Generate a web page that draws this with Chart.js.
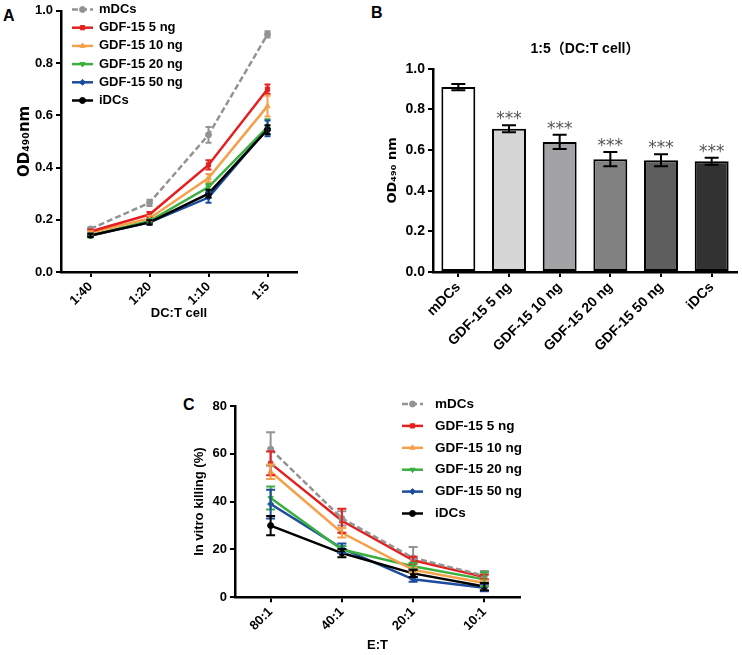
<!DOCTYPE html>
<html><head><meta charset="utf-8">
<script src="https://cdn.jsdelivr.net/npm/chart.js@4.4.0/dist/chart.umd.min.js"></script>
<style>
html,body{margin:0;padding:0;background:#fff}
body{width:742px;height:655px;position:relative;overflow:hidden;font-family:"Liberation Sans",Arial,sans-serif}
canvas{position:absolute}
.lbl{position:absolute;font-weight:bold;font-size:16px;line-height:16px;color:#000}
</style></head><body>
<div class="lbl" style="left:3px;top:8px">A</div>
<div class="lbl" style="left:371px;top:5px">B</div>
<div class="lbl" style="left:183px;top:397px">C</div>
<canvas id="cA" width="310" height="330" style="left:0;top:0"></canvas>
<canvas id="cB" width="382" height="365" style="left:360px;top:0"></canvas>
<canvas id="cC" width="420" height="270" style="left:130px;top:385px"></canvas>
<script>
// ---------- DATA ----------
const groups = ['mDCs', 'GDF-15 5 ng', 'GDF-15 10 ng', 'GDF-15 20 ng', 'GDF-15 50 ng', 'iDCs'];

// Panel A: OD490 vs DC:T cell ratio
const ratiosA = ['1:40', '1:20', '1:10', '1:5'];
const odA_mDCs   = [0.165, 0.265, 0.525, 0.910];
const odA_g5     = [0.155, 0.220, 0.410, 0.700];
const odA_g10    = [0.150, 0.205, 0.360, 0.635];
const odA_g20    = [0.140, 0.195, 0.325, 0.555];
const odA_g50    = [0.140, 0.190, 0.285, 0.550];
const odA_iDCs   = [0.140, 0.190, 0.300, 0.545];
const errA_mDCs  = [0.006, 0.012, 0.030, 0.012];
const errA_g5    = [0.008, 0.010, 0.018, 0.018];
const errA_g10   = [0.006, 0.010, 0.015, 0.040];
const errA_g20   = [0.008, 0.008, 0.012, 0.030];
const errA_g50   = [0.006, 0.008, 0.020, 0.030];
const errA_iDCs  = [0.006, 0.008, 0.015, 0.017];

// Panel B: OD490 at 1:5
const odB  = [0.910, 0.705, 0.640, 0.555, 0.550, 0.545];
const errB = [0.015, 0.017, 0.035, 0.035, 0.030, 0.017];
const sigB = ['', '***', '***', '***', '***', '***'];

// Panel C: in vitro killing (%) vs E:T
const ratiosC = ['80:1', '40:1', '20:1', '10:1'];
const killC_mDCs = [62.0, 33.0, 16.5, 9.0];
const killC_g5   = [56.0, 32.0, 15.5, 8.5];
const killC_g10  = [52.5, 27.0, 11.5, 6.0];
const killC_g20  = [41.5, 20.0, 13.0, 7.5];
const killC_g50  = [39.0, 20.5, 7.5, 4.0];
const killC_iDCs = [30.0, 18.5, 10.0, 4.5];
const errC_mDCs  = [7.0, 3.0, 4.5, 2.0];
const errC_g5    = [5.0, 5.0, 1.5, 1.0];
const errC_g10   = [3.0, 2.0, 1.0, 1.0];
const errC_g20   = [4.8, 1.5, 1.5, 3.0];
const errC_g50   = [6.0, 2.0, 1.0, 1.5];
const errC_iDCs  = [4.0, 1.7, 1.5, 1.5];

// ---------- STYLE ----------
const FONT = '"Liberation Sans", Arial, sans-serif';
const SUBFONT = '"DejaVu Sans", "Liberation Sans", sans-serif';
Chart.defaults.font.family = FONT;
Chart.defaults.color = '#000';

const seriesStyle = [
  {color: '#939393', point: 'circle', rot: 0, dash: [6, 3]},
  {color: '#e3201f', point: 'rect', rot: 0, dash: []},
  {color: '#f5a04a', point: 'triangle', rot: 0, dash: []},
  {color: '#3bb041', point: 'triangle', rot: 180, dash: []},
  {color: '#1c4c9e', point: 'rectRot', rot: 0, dash: []},
  {color: '#000000', point: 'circle', rot: 0, dash: []}
];

function lineDS(i, data, errors) {
  const s = seriesStyle[i];
  return {
    label: groups[i], data, errors,
    borderColor: s.color, backgroundColor: s.color,
    pointBackgroundColor: s.color, pointBorderColor: s.color,
    pointStyle: s.point, pointRotation: s.rot, pointRadius: 3, pointBorderWidth: 1,
    borderWidth: 2.5, borderDash: s.dash, tension: 0, fill: false,
    order: i === 5 ? 0 : i + 1
  };
}

// ---------- PLUGINS ----------
const errorBarPlugin = {
  id: 'errorBars',
  afterDatasetsDraw(chart, args, o) {
    const ctx = chart.ctx, ys = chart.scales.y;
    chart.data.datasets.forEach((ds, di) => {
      if (!ds.errors) return;
      const meta = chart.getDatasetMeta(di);
      meta.data.forEach((el, i) => {
        const v = ds.data[i], e = ds.errors[i];
        const x = el.x, yT = ys.getPixelForValue(v + e), yB = ys.getPixelForValue(v - e);
        const w = o.capWidth / 2;
        ctx.save();
        ctx.strokeStyle = o.color || ds.borderColor;
        ctx.lineWidth = o.lineWidth;
        ctx.setLineDash([]);
        ctx.beginPath();
        ctx.moveTo(x, yT); ctx.lineTo(x, yB);
        ctx.moveTo(x - w, yT); ctx.lineTo(x + w, yT);
        ctx.moveTo(x - w, yB); ctx.lineTo(x + w, yB);
        ctx.stroke();
        if (ds.sig && ds.sig[i]) {
          ctx.fillStyle = o.sigColor;
          ctx.font = o.sigFont;
          ctx.textAlign = 'center';
          ctx.textBaseline = 'alphabetic';
          ctx.fillText(ds.sig[i], x, yT + o.sigOffset);
        }
        ctx.restore();
      });
    });
  }
};

const lineLegendPlugin = {
  id: 'lineLegend',
  afterDraw(chart, args, o) {
    if (!o || !o.display) return;
    const ctx = chart.ctx;
    chart.data.datasets.forEach((ds, i) => {
      const y = o.y + i * o.rowHeight;
      ctx.save();
      ctx.strokeStyle = ds.borderColor;
      ctx.lineWidth = ds.borderWidth;
      ctx.setLineDash(ds.borderDash || []);
      ctx.beginPath();
      ctx.moveTo(o.x, y); ctx.lineTo(o.x + o.lineLength, y);
      ctx.stroke();
      ctx.setLineDash([]);
      ctx.fillStyle = ds.pointBackgroundColor;
      ctx.strokeStyle = ds.pointBorderColor;
      ctx.lineWidth = 1;
      Chart.helpers.drawPoint(ctx, {pointStyle: ds.pointStyle, radius: ds.pointRadius, rotation: ds.pointRotation, borderWidth: 1}, o.x + o.lineLength / 2, y);
      ctx.fillStyle = '#000';
      ctx.font = o.font;
      ctx.textAlign = 'left';
      ctx.textBaseline = 'middle';
      ctx.fillText(ds.label, o.x + o.lineLength + o.gap, y);
      ctx.restore();
    });
  }
};

function axisCommon(extra) {
  return Object.assign({
    grid: {display: true, drawOnChartArea: false, drawTicks: true, tickLength: 5, color: '#000', lineWidth: 2, offset: false},
    border: {display: true, color: '#000', width: 2.5}
  }, extra);
}

// ---------- PANEL A ----------
new Chart(document.getElementById('cA'), {
  type: 'line',
  data: {
    labels: ratiosA,
    datasets: [
      lineDS(0, odA_mDCs, errA_mDCs), lineDS(1, odA_g5, errA_g5), lineDS(2, odA_g10, errA_g10),
      lineDS(3, odA_g20, errA_g20), lineDS(4, odA_g50, errA_g50), lineDS(5, odA_iDCs, errA_iDCs)
    ]
  },
  options: {
    responsive: false, animation: false,
    layout: {padding: {left: 0, right: 13, top: 10, bottom: 0}},
    plugins: {
      legend: {display: false}, tooltip: {enabled: false},
      errorBars: {capWidth: 6, lineWidth: 2},
      lineLegend: {display: true, x: 72, y: 9.5, rowHeight: 18.2, lineLength: 21, gap: 6, font: 'bold 13px ' + FONT}
    },
    scales: {
      x: axisCommon({
        offset: true,
        ticks: {maxRotation: 45, minRotation: 45, font: {size: 13, weight: 'bold'}, padding: 2},
        title: {display: true, text: 'DC:T cell', font: {size: 13, weight: 'bold'}, padding: {top: 0, bottom: 9}},
        afterFit: s => { s.height = 58; }
      }),
      y: axisCommon({
        min: 0, max: 1.0,
        ticks: {stepSize: 0.2, callback: v => v.toFixed(1), font: {size: 13, weight: 'bold'}, padding: 3},
        title: {display: true, text: 'OD₄₉₀nm', font: {size: 15, weight: 'bold', family: SUBFONT}, padding: {top: 16, bottom: 0}},
        afterFit: s => { s.width = 61; }
      })
    }
  },
  plugins: [errorBarPlugin, lineLegendPlugin]
});

// ---------- PANEL B ----------
new Chart(document.getElementById('cB'), {
  type: 'bar',
  data: {
    labels: groups,
    datasets: [{
      label: '1:5', data: odB, errors: errB, sig: sigB,
      backgroundColor: ['#ffffff', '#d6d6d6', '#a3a3a5', '#828282', '#5e5e5e', '#323232'],
      borderColor: '#000', borderWidth: 2, borderSkipped: false,
      categoryPercentage: 1.0, barPercentage: 0.67
    }]
  },
  options: {
    responsive: false, animation: false,
    layout: {padding: {left: 0, right: 5, top: 0, bottom: 0}},
    plugins: {
      legend: {display: false}, tooltip: {enabled: false},
      title: {display: true, text: '1:5（DC:T cell）', fullSize: false, font: {size: 14, weight: 'bold', family: FONT + ', "Noto Sans CJK SC"'}, color: '#000', padding: {top: 41, bottom: 11}},
      errorBars: {capWidth: 14, lineWidth: 2, color: '#000', sigColor: '#555', sigFont: '17px "DejaVu Sans"', sigOffset: -1}
    },
    scales: {
      x: axisCommon({
        offset: true,
        ticks: {maxRotation: 45, minRotation: 45, font: {size: 14, weight: 'bold'}, padding: 2},
        afterFit: s => { s.height = 93; }
      }),
      y: axisCommon({
        min: 0, max: 1.0,
        ticks: {stepSize: 0.2, callback: v => v.toFixed(1), font: {size: 14, weight: 'bold'}, padding: 3},
        title: {display: true, text: 'OD₄₉₀ nm', font: {size: 13, weight: 'bold', family: SUBFONT}, padding: {top: 25, bottom: 0}},
        afterFit: s => { s.width = 73; }
      })
    }
  },
  plugins: [errorBarPlugin]
});

// ---------- PANEL C ----------
new Chart(document.getElementById('cC'), {
  type: 'line',
  data: {
    labels: ratiosC,
    datasets: [
      lineDS(0, killC_mDCs, errC_mDCs), lineDS(1, killC_g5, errC_g5), lineDS(2, killC_g10, errC_g10),
      lineDS(3, killC_g20, errC_g20), lineDS(4, killC_g50, errC_g50), lineDS(5, killC_iDCs, errC_iDCs)
    ]
  },
  options: {
    responsive: false, animation: false,
    layout: {padding: {left: 0, right: 30, top: 21, bottom: 0}},
    plugins: {
      legend: {display: false}, tooltip: {enabled: false},
      errorBars: {capWidth: 9, lineWidth: 2},
      lineLegend: {display: true, x: 272, y: 19, rowHeight: 21.9, lineLength: 21, gap: 12, font: 'bold 13.5px ' + FONT}
    },
    scales: {
      x: axisCommon({
        offset: true,
        ticks: {maxRotation: 45, minRotation: 45, font: {size: 13, weight: 'bold'}, padding: 2},
        title: {display: true, text: 'E:T', font: {size: 13, weight: 'bold'}, padding: {top: 0, bottom: 2}},
        afterFit: s => { s.height = 57.7; }
      }),
      y: axisCommon({
        min: 0, max: 80,
        ticks: {stepSize: 20, font: {size: 13, weight: 'bold'}, padding: 3},
        title: {display: true, text: 'In vitro killing (%)', font: {size: 13, weight: 'bold'}, padding: {top: 62, bottom: 0}},
        afterFit: s => { s.width = 105; }
      })
    }
  },
  plugins: [errorBarPlugin, lineLegendPlugin]
});
</script>
</body></html>
